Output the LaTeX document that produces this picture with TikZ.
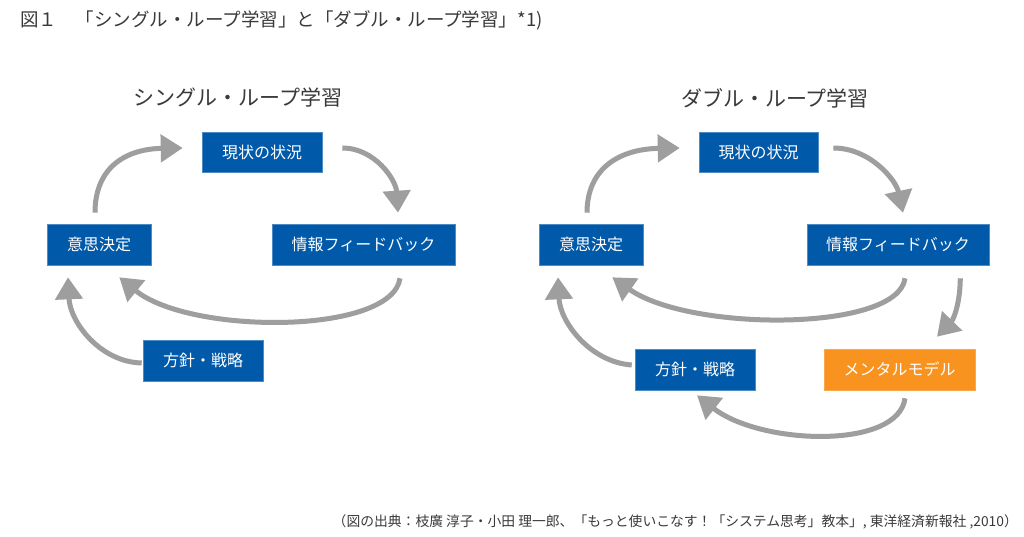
\documentclass[tikz,border=0pt]{standalone}
\usepackage{fontspec}
\setmainfont{Noto Sans CJK JP}
\usetikzlibrary{arrows.meta,calc}
\definecolor{boxblue}{HTML}{0059A9}
\definecolor{boxorange}{HTML}{F7931E}
\definecolor{arrowgray}{HTML}{9E9E9E}
\definecolor{textgray}{HTML}{3A3A3A}
\begin{document}
\begin{tikzpicture}[x=1pt,y=-1pt,
  bluebox/.style={fill=boxblue,draw=boxblue!70!white,line width=0.6pt,text=white,font=\fontsize{16}{19}\selectfont,inner sep=0pt},
  orangebox/.style={bluebox,fill=boxorange,draw=boxorange!80!white},
  garrow/.style={draw=arrowgray,line width=5pt,-{Triangle[width=27pt,length=22pt]}},
  heading/.style={text=textgray,font=\fontsize{21}{25}\selectfont,inner sep=0pt},
]
\useasboundingbox (0,0) rectangle (1024,537);
\fill[white] (0,0) rectangle (1024,537);

% caption
\node[anchor=west,text=textgray,font=\fontsize{18.5}{22}\selectfont,inner sep=0pt] (cap) at (20,20)
  {図１　「シングル・ループ学習」と「ダブル・ループ学習」*1)};

% headings
\node[heading] (Lhead) at (238,98) {シングル・ループ学習};
\node[heading] (Rhead) at (775,98) {ダブル・ループ学習};

% left boxes
\node[bluebox,minimum width=120pt,minimum height=40pt] (Lcur) at (262,152) {現状の状況};
\node[bluebox,minimum width=104pt,minimum height=41pt] (Ldec) at (99,244.5) {意思決定};
\node[bluebox,minimum width=183pt,minimum height=41pt] (Lfb) at (363.5,244.5) {情報フィードバック};
\node[bluebox,minimum width=120pt,minimum height=41pt] (Lpol) at (203,360.5) {方針・戦略};

% right boxes
\node[bluebox,minimum width=119pt,minimum height=40pt] (Rcur) at (758.5,152) {現状の状況};
\node[bluebox,minimum width=104pt,minimum height=41pt] (Rdec) at (591,244.5) {意思決定};
\node[bluebox,minimum width=182pt,minimum height=41pt] (Rfb) at (898,244.5) {情報フィードバック};
\node[bluebox,minimum width=120pt,minimum height=41pt] (Rpol) at (695,369.5) {方針・戦略};
\node[orangebox,minimum width=151pt,minimum height=41pt] (Rmm) at (899.5,369.5) {メンタルモデル};

% left arrows
\draw[garrow] ($(Ldec.north)+(-4,-11)$) .. controls (95,168) and (125,149) .. ($(Lcur.west)+(-19,-4)$);
\draw[garrow] ($(Lcur.east)+(20,-4)$) .. controls (375,148) and (396,180) .. ($(Lfb.north)+(34.5,-11)$);
\draw[garrow] ($(Lfb.south)+(36.5,13)$) .. controls (392,335) and (190,335) .. ($(Ldec.south east)+(-32,12)$);
\draw[garrow] ($(Lpol.west)+(-1,2.5)$) .. controls (100,362) and (70,322) .. ($(Ldec.south)+(-31,12)$);

% right arrows
\draw[garrow] ($(Rdec.north)+(-4,-11)$) .. controls (587,168) and (620,149) .. ($(Rcur.west)+(-19,-4)$);
\draw[garrow] ($(Rcur.east)+(15,-4)$) .. controls (870,148) and (896,180) .. ($(Rfb.north)+(5,-11)$);
\draw[garrow] ($(Rfb.south)+(7,13)$) .. controls (898,332) and (690,332) .. ($(Rdec.south east)+(-31,12)$);
\draw[garrow] ($(Rfb.south east)+(-29,13)$) .. controls (960,305) and (953,320) .. ($(Rmm.north)+(37.5,-12)$);
\draw[garrow] ($(Rmm.south)+(5.5,8)$) .. controls (898,450) and (760,445) .. ($(Rpol.south)+(2,5)$);
\draw[garrow] ($(Rpol.west)+(-3,-4.5)$) .. controls (590,362) and (560,322) .. ($(Rdec.south)+(-33,12)$);

% source
\node[anchor=east,text=textgray,font=\fontsize{13.8}{16}\selectfont,inner sep=0pt] (src) at (1018,522)
  {（図の出典：枝廣 淳子・小田 理一郎、「もっと使いこなす！「システム思考」教本」, 東洋経済新報社 ,2010）};
\end{tikzpicture}
\end{document}
